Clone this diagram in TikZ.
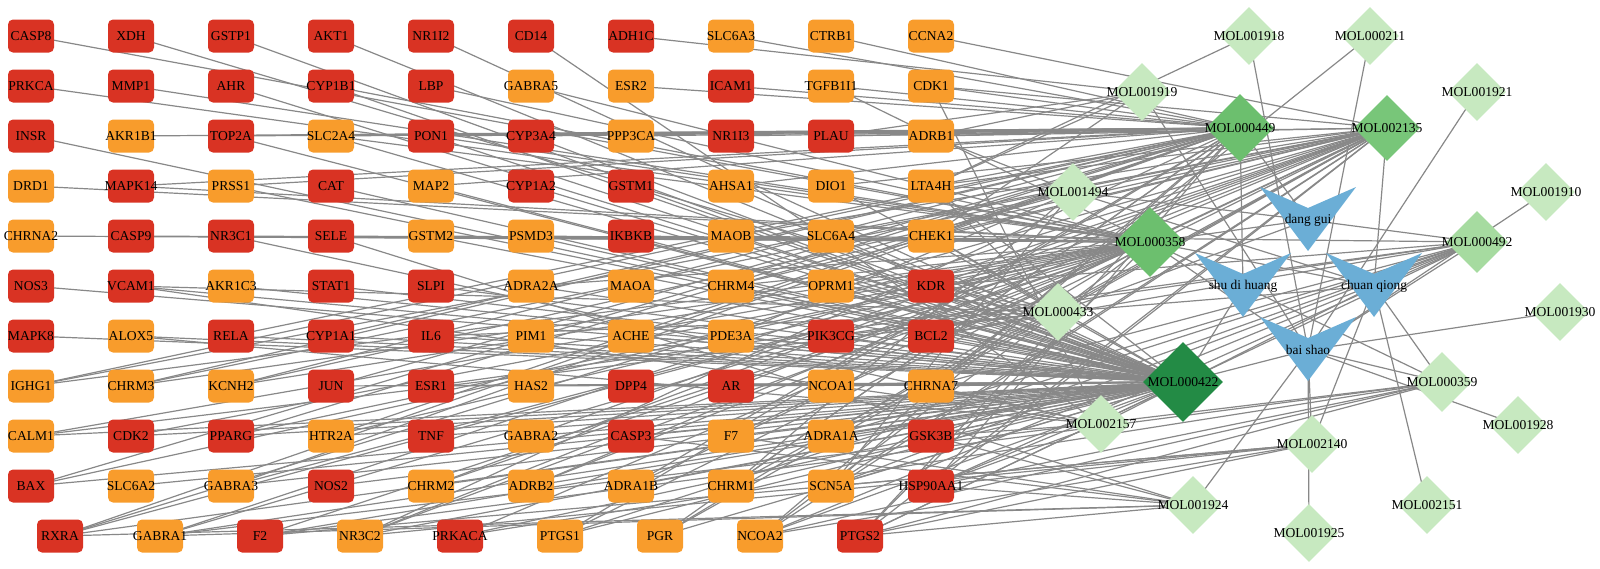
\documentclass[tikz,border=0pt]{standalone}
\usepackage{fontspec}
\setmainfont{Liberation Serif}
\usetikzlibrary{shapes.geometric}

\definecolor{hot}{HTML}{D93323}
\definecolor{warm}{HTML}{F89C2C}
\definecolor{leafpale}{HTML}{C7E9C0}
\definecolor{leafsoft}{HTML}{A6DBA0}
\definecolor{leafmid}{HTML}{6CBF6E}
\definecolor{leafmidb}{HTML}{78C679}
\definecolor{leafdeep}{HTML}{238B45}
\definecolor{herbblue}{HTML}{6BAED6}
\definecolor{linkgray}{HTML}{888888}

\pgfdeclarelayer{links}
\pgfsetlayers{links,main}

\newcommand{\cbox}[1]{\makebox[0pt]{#1}}

\tikzset{
  target/.style={rectangle, rounded corners=2.5pt, minimum width=23pt,
    minimum height=16.5pt, inner sep=0pt, font=\fontsize{6.8}{7}\selectfont},
  mol/.style={diamond, inner sep=0pt, minimum size=29pt, fill=leafpale,
    font=\fontsize{6.8}{7}\selectfont},
  herbtext/.style={inner sep=0pt, font=\fontsize{6.7}{7}\selectfont},
  link/.style={draw=linkgray, line width=0.6pt},
}

% herb: name, x, y, label
\newcommand{\herb}[4]{%
  \fill[herbblue, shift={(#2,#3)}] (-48,-33) -- (0,-12) -- (48,-33) -- (0,31) -- cycle;
  \node[herbtext] (#1) at (#2,#3) {#4};}

\begin{document}
\begin{tikzpicture}[x=0.5pt, y=-0.5pt]
\useasboundingbox (0,0) rectangle (1600,568);

% targets
\foreach \row [count=\j from 0] in {
  {CASP8/hot,XDH/hot,GSTP1/hot,AKT1/hot,NR1I2/hot,CD14/hot,ADH1C/hot,SLC6A3/warm,CTRB1/warm,CCNA2/warm},
  {PRKCA/hot,MMP1/hot,AHR/hot,CYP1B1/hot,LBP/hot,GABRA5/warm,ESR2/warm,ICAM1/hot,TGFB1I1/warm,CDK1/warm},
  {INSR/hot,AKR1B1/warm,TOP2A/hot,SLC2A4/warm,PON1/hot,CYP3A4/hot,PPP3CA/warm,NR1I3/hot,PLAU/hot,ADRB1/warm},
  {DRD1/warm,MAPK14/hot,PRSS1/warm,CAT/hot,MAP2/warm,CYP1A2/hot,GSTM1/hot,AHSA1/warm,DIO1/warm,LTA4H/warm},
  {CHRNA2/warm,CASP9/hot,NR3C1/hot,SELE/hot,GSTM2/warm,PSMD3/warm,IKBKB/hot,MAOB/warm,SLC6A4/warm,CHEK1/warm},
  {NOS3/hot,VCAM1/hot,AKR1C3/warm,STAT1/hot,SLPI/hot,ADRA2A/warm,MAOA/warm,CHRM4/warm,OPRM1/warm,KDR/hot},
  {MAPK8/hot,ALOX5/warm,RELA/hot,CYP1A1/hot,IL6/hot,PIM1/warm,ACHE/warm,PDE3A/warm,PIK3CG/hot,BCL2/hot},
  {IGHG1/warm,CHRM3/warm,KCNH2/warm,JUN/hot,ESR1/hot,HAS2/warm,DPP4/hot,AR/hot,NCOA1/warm,CHRNA7/warm},
  {CALM1/warm,CDK2/hot,PPARG/hot,HTR2A/warm,TNF/hot,GABRA2/warm,CASP3/hot,F7/warm,ADRA1A/warm,GSK3B/hot},
  {BAX/hot,SLC6A2/warm,GABRA3/warm,NOS2/hot,CHRM2/warm,ADRB2/warm,ADRA1B/warm,CHRM1/warm,SCN5A/warm,HSP90AA1/hot}}
  \foreach \n/\c [count=\i from 0] in \row
    \node[target, fill=\c] (\n) at ({31+100*\i},{36+50*\j}) {\cbox{\n}};
\foreach \n/\c [count=\i from 0] in {RXRA/hot,GABRA1/warm,F2/hot,NR3C2/warm,PRKACA/hot,PTGS1/warm,PGR/warm,NCOA2/warm,PTGS2/hot}
  \node[target, fill=\c] (\n) at ({60+100*\i},536) {\cbox{\n}};

% compounds
\node[mol] (MOL001918) at (1249,36) {\cbox{MOL001918}};
\node[mol] (MOL000211) at (1370,36) {\cbox{MOL000211}};
\node[mol] (MOL001921) at (1477,92) {\cbox{MOL001921}};
\node[mol] (MOL001919) at (1142,92) {\cbox{MOL001919}};
\node[mol, fill=leafmid, minimum size=34pt] (MOL000449) at (1240,128) {\cbox{MOL000449}};
\node[mol, fill=leafmidb, minimum size=33pt] (MOL002135) at (1387,128) {\cbox{MOL002135}};
\node[mol] (MOL001494) at (1073,192) {\cbox{MOL001494}};
\node[mol] (MOL001910) at (1546,192) {\cbox{MOL001910}};
\node[mol, fill=leafmid, minimum size=35pt] (MOL000358) at (1150,242) {\cbox{MOL000358}};
\node[mol, fill=leafsoft, minimum size=31pt] (MOL000492) at (1477,242) {\cbox{MOL000492}};
\node[mol] (MOL000433) at (1058,312) {\cbox{MOL000433}};
\node[mol] (MOL001930) at (1560,312) {\cbox{MOL001930}};
\node[mol, fill=leafdeep, minimum size=40pt] (MOL000422) at (1183,382) {\cbox{MOL000422}};
\node[mol, minimum size=30pt] (MOL000359) at (1442,382) {\cbox{MOL000359}};
\node[mol] (MOL002157) at (1101,424) {\cbox{MOL002157}};
\node[mol] (MOL001928) at (1518,425) {\cbox{MOL001928}};
\node[mol] (MOL002140) at (1312,444) {\cbox{MOL002140}};
\node[mol] (MOL001924) at (1193,505) {\cbox{MOL001924}};
\node[mol] (MOL002151) at (1427,505) {\cbox{MOL002151}};
\node[mol] (MOL001925) at (1309,533) {\cbox{MOL001925}};

% herbs
\herb{dg}{1308}{220}{dang gui}
\herb{sdh}{1243}{286}{shu di huang}
\herb{cq}{1374}{286}{chuan qiong}
\herb{bs}{1308}{350}{bai shao}

\begin{pgfonlayer}{links}
\foreach \t in {GSTP1,AKT1,NR1I2,AHR,CYP1B1,INSR,TOP2A,SLC2A4,PON1,CYP3A4,PRSS1,CAT,MAP2,CYP1A2,GSTM1,AHSA1,DIO1,LTA4H,GSTM2,PSMD3,IKBKB,MAOB,SLC6A4,CHEK1,NOS3,VCAM1,AKR1C3,STAT1,SLPI,ADRA2A,MAOA,CHRM4,OPRM1,KDR,MAPK8,ALOX5,RELA,CYP1A1,IL6,PIM1,ACHE,PDE3A,PIK3CG,BCL2,JUN,ESR1,HAS2,DPP4,AR,NCOA1,CHRNA7,CALM1,CDK2,PPARG,HTR2A,TNF,GABRA2,CASP3,F7,ADRA1A,GSK3B,BAX,SLC6A2,GABRA3,NOS2,CHRM2,ADRB2,ADRA1B,CHRM1,SCN5A,HSP90AA1,RXRA,GABRA1,F2,NR3C2,PRKACA,PTGS1,PGR,NCOA2,PTGS2}
  \draw[link] (\t.center) -- (MOL000422.center);
\foreach \t in {SLC6A3,CTRB1,TGFB1I1,CDK1,ICAM1,ESR2,AKR1B1,TOP2A,SLC2A4,PON1,CYP3A4,PPP3CA,NR1I3,PLAU,ADRB1,MAPK14,PRSS1,MAP2,AHSA1,LTA4H,CHEK1,RELA,CYP1A1,IGHG1,CHRM3,KCNH2,JUN,BAX,RXRA,GABRA3,PPARG,HTR2A,NR3C2,PTGS1,PGR,NCOA2,PTGS2,ADRA1B,CHRM1,SCN5A,HSP90AA1}
  \draw[link] (\t.center) -- (MOL000449.center);
\foreach \t in {CCNA2,CDK1,ADRB1,PLAU,LTA4H,DIO1,CHEK1,SLC6A4,MAOB,OPRM1,CHRM4,KDR,IGHG1,CHRM3,KCNH2,RXRA,GABRA1,NR3C2,ADRB2,CHRM2,ADRA1B,CHRM1,SCN5A,PTGS2,PTGS1,HSP90AA1,GABRA2,ADRA1A,F7,PGR,NCOA2}
  \draw[link] (\t.center) -- (MOL002135.center);
\foreach \t in {CASP8,PRKCA,MMP1,CYP1B1,LBP,GABRA5,TGFB1I1,SLC2A4,PON1,DRD1,MAPK14,CHRNA2,CASP9,NR3C1,SELE,GSTM2,PSMD3,IKBKB,MAOB,SLC6A4,ADRA2A,CHRM4,CHRM3,CDK2,IGHG1,BAX,RXRA,GABRA3,GABRA1,F2,NR3C2,PRKACA,PGR,NCOA2,PTGS2,ADRB2,CHRM2,HTR2A,KCNH2,CALM1,PPARG}
  \draw[link] (\t.center) -- (MOL000358.center);
\foreach \t in {CHEK1,KDR,BCL2,CHRNA7,GSK3B,HSP90AA1,PTGS2,NCOA2,PIK3CG,SCN5A,ADRA1A,PTGS1,ESR1}
  \draw[link] (\t.center) -- (MOL000492.center);
\foreach \t in {XDH,VCAM1,CALM1,KDR,BCL2,PIK3CG,OPRM1,CHEK1,LTA4H,IL6}
  \draw[link] (\t.center) -- (MOL000433.center);
\foreach \t in {ADRB1,LTA4H,CHRM4,PDE3A,SCN5A,CHRM1}
  \draw[link] (\t.center) -- (MOL001494.center);
\foreach \t in {ADH1C,PLAU,ADRB1,LTA4H,CHEK1}
  \draw[link] (\t.center) -- (MOL001919.center);
\foreach \t in {CD14,CDK1,NR3C1,ALOX5,VCAM1,GSK3B,HSP90AA1,CHRNA7}
  \draw[link] (\t.center) -- (MOL002157.center);
\foreach \t in {SELE,RXRA,GABRA1,PTGS2,HSP90AA1,GSK3B,F7,CASP3}
  \draw[link] (\t.center) -- (MOL001924.center);
\foreach \t in {F2,NR3C2,PTGS2,HSP90AA1,SCN5A,NCOA2}
  \draw[link] (\t.center) -- (MOL002140.center);
\foreach \t in {GABRA1,F2,PRKACA,HSP90AA1,PTGS2,NCOA2}
  \draw[link] (\t.center) -- (MOL000359.center);
\draw[link] (LTA4H.center) -- (MOL001918.center);
\draw[link] (CHRNA7.center) -- (MOL000211.center);
% herb to compound
\foreach \m in {MOL000449,MOL000358,MOL000433,MOL001494,MOL000492}
  \draw[link] (dg.center) -- (\m.center);
\foreach \m in {MOL000449,MOL000359,MOL000358,MOL000422}
  \draw[link] (sdh.center) -- (\m.center);
\foreach \m in {MOL002135,MOL000359,MOL000433,MOL001494,MOL002140,MOL002151,MOL002157,MOL000358}
  \draw[link] (cq.center) -- (\m.center);
\foreach \m in {MOL000358,MOL000359,MOL000422,MOL000492,MOL001910,MOL001918,MOL001919,MOL001921,MOL001924,MOL001925,MOL001928,MOL001930,MOL000211,MOL002140}
  \draw[link] (bs.center) -- (\m.center);
\end{pgfonlayer}
\end{tikzpicture}
\end{document}
